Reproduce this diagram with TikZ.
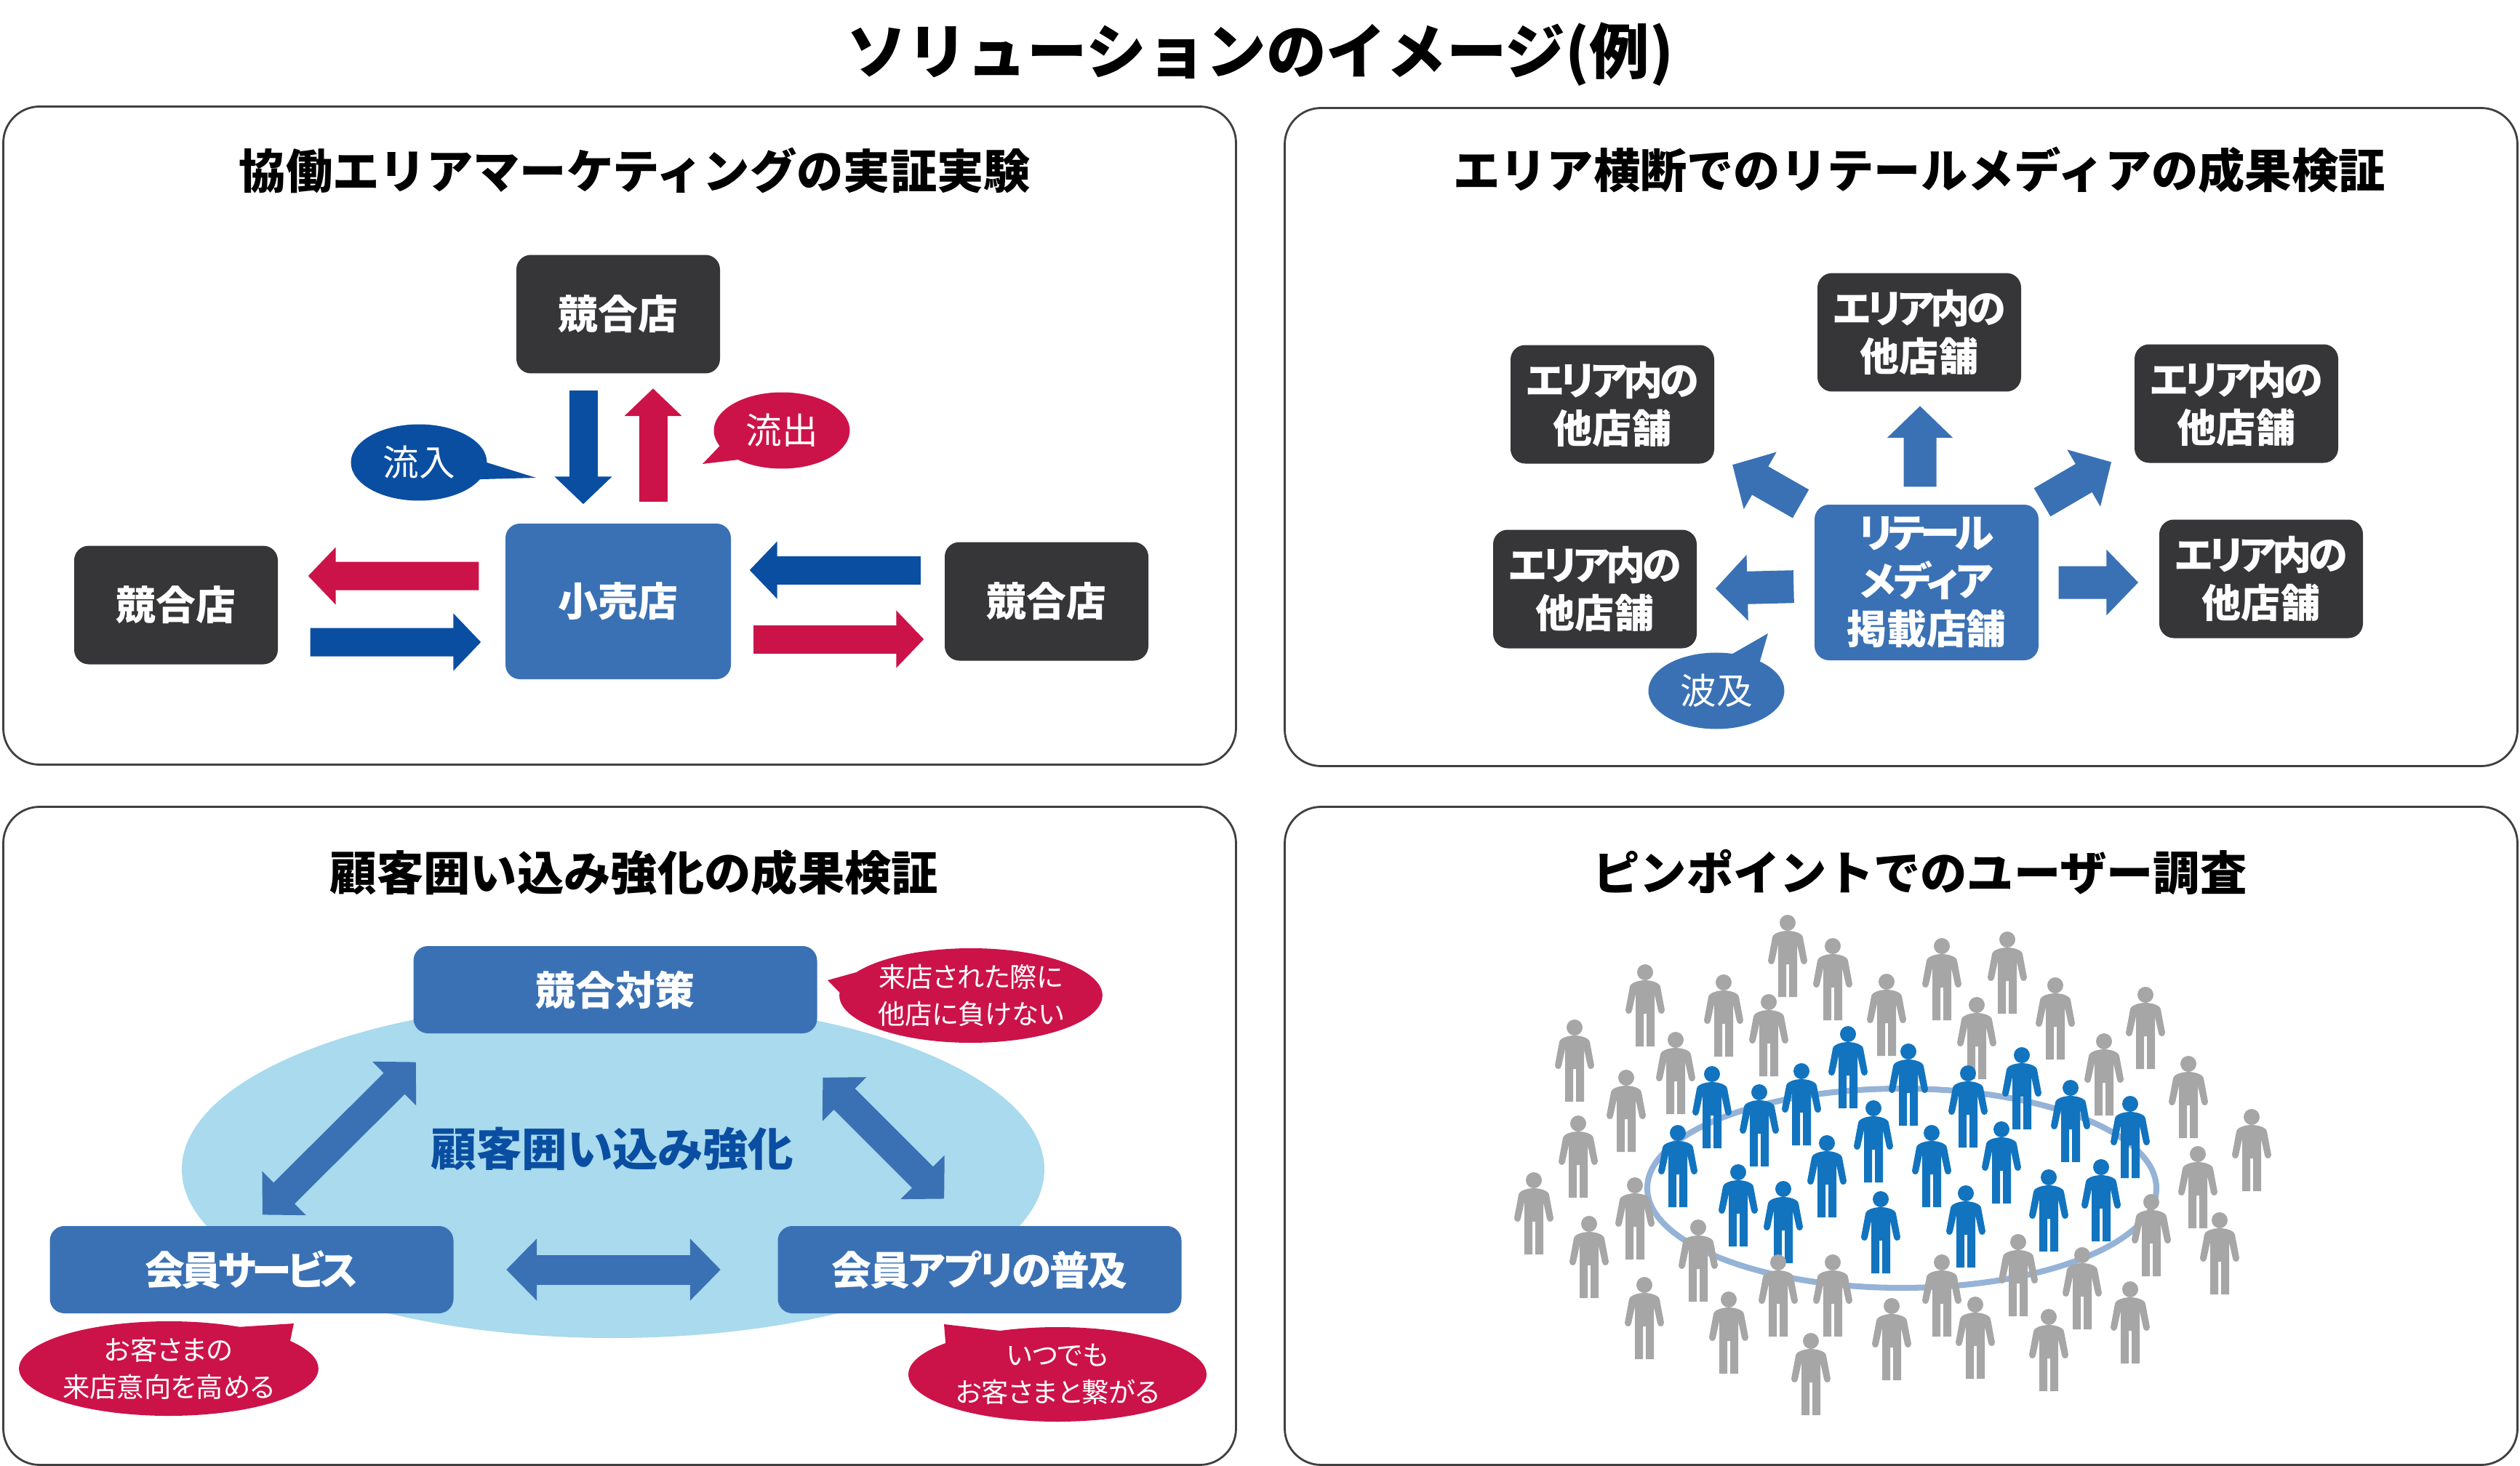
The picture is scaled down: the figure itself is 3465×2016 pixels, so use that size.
\documentclass[tikz,border=0pt]{standalone}
\usepackage{fontspec}
\setmainfont{Noto Sans CJK JP}[RawFeature=+palt]
\newfontfamily\plainjp{Noto Sans CJK JP}
\newcommand{\squeeze}[2]{{\addfontfeature{LetterSpace=#1}#2}}
\usepackage{xcolor}
\usetikzlibrary{arrows.meta,shapes.geometric,shapes.callouts}
\definecolor{inkdark}{HTML}{363638}
\definecolor{steel}{HTML}{3A71B4}
\definecolor{deepblue}{HTML}{0A4EA2}
\definecolor{crimson}{HTML}{CC1349}
\definecolor{paleblue}{HTML}{A9DAED}
\definecolor{crowdgray}{HTML}{A6A6A6}
\definecolor{crowdblue}{HTML}{1274BF}
\definecolor{ringblue}{HTML}{95B3D7}
\definecolor{panelline}{HTML}{404040}

\begin{document}
\begin{tikzpicture}[x=0.1mm,y=-0.1mm,
  panel/.style={draw=panelline,line width=0.8pt,rounded corners=5mm,minimum width=169.5mm,minimum height=90.5mm,inner sep=0pt},
  paneltitle/.style={font=\plainjp\fontsize{18.3}{22}\selectfont\bfseries,text=black,inner sep=0pt},
  darkbox/.style={fill=inkdark,text=white,rounded corners=2mm,minimum width=28mm,minimum height=16.3mm,inner sep=0pt,align=center,font=\fontsize{15.6}{18.4}\selectfont\bfseries},
  areabox/.style={darkbox,font=\fontsize{15.4}{18.6}\selectfont\bfseries},
  steelbox/.style={fill=steel,text=white,rounded corners=2mm,inner sep=0pt,align=center,font=\fontsize{15.6}{18.8}\selectfont\bfseries},
  wideblock/.style={steelbox,minimum width=55.5mm,minimum height=12mm},
  bubble/.style={ellipse callout,text=white,inner sep=0pt,align=center,callout pointer arc=26},
  talk/.style={bubble,font=\fontsize{14.1}{16}\selectfont,minimum width=18.7mm,minimum height=10.5mm},
  note/.style={bubble,fill=crimson,font=\fontsize{10.6}{14.4}\selectfont,minimum width=36mm,minimum height=13mm},
  flowarrow/.style={line width=3.9mm,-{Triangle[length=3.8mm,width=7.7mm]}},
  burstarrow/.style={draw=steel,line width=4.5mm,-{Triangle[length=4.4mm,width=8.8mm]}},
  linkarrow/.style={draw=steel,line width=4.1mm,{Triangle[length=4.2mm,width=8.3mm]}-{Triangle[length=4.2mm,width=8.3mm]}},
  person/.pic={
    \fill[pic actions] (0,-102) ellipse (11 and 11);
    \fill[pic actions] (-13,0) -- (-2,0) -- (-2,-45) -- (2,-45) -- (2,0) -- (13,0) -- (13,-72) -- (18,-49)
      .. controls (19,-43) and (27,-44) .. (27,-50) -- (21,-82)
      .. controls (20,-88) and (8,-91) .. (0,-91)
      .. controls (-8,-91) and (-20,-88) .. (-21,-82) -- (-27,-50)
      .. controls (-27,-44) and (-19,-43) .. (-18,-49) -- (-13,-72) -- cycle;
  }]
  \useasboundingbox (0,0) rectangle (3465,2016);

  \node[font=\plainjp\fontsize{23.5}{28}\selectfont\bfseries,inner sep=0pt] (headline) at (1733,75) {ソリューションのイメージ(例)};

  \node[panel] (panelA) at (852,599) {};
  \node[panel] (panelB) at (2614,601) {};
  \node[panel] (panelC) at (852,1562) {};
  \node[panel] (panelD) at (2614,1562) {};
  \node[paneltitle] (titleA) at (873,234) {協働エリアマーケティングの実証実験};
  \node[paneltitle] (titleB) at (2639,234) {エリア横断でのリテールメディアの成果検証};
  \node[paneltitle] (titleC) at (872,1200) {顧客囲い込み強化の成果検証};
  \node[paneltitle] (titleD) at (2640,1200) {ピンポイントでのユーザー調査};

  \node[darkbox] (rivalTop) at (850,432) {競合店};
  \node[darkbox] (rivalLeft) at (242,832) {競合店};
  \node[darkbox] (rivalRight) at (1439,827) {競合店};
  \node[steelbox,minimum width=31mm,minimum height=21.4mm] (shop) at (850,827) {小売店};
  \draw[flowarrow,deepblue,shorten <=2.3mm,shorten >=2.6mm] ([xshift=-4.8mm]rivalTop.south) -- ([xshift=-4.8mm]shop.north);
  \draw[flowarrow,crimson,shorten <=2.9mm,shorten >=2mm] ([xshift=4.8mm]shop.north) -- ([xshift=4.8mm]rivalTop.south);
  \draw[flowarrow,crimson,shorten <=3.6mm,shorten >=4.1mm] ([yshift=3.5mm]shop.west) -- ([yshift=4mm]rivalLeft.east);
  \draw[flowarrow,deepblue,shorten <=4.4mm,shorten >=3.3mm] ([yshift=-5.1mm]rivalLeft.east) -- ([yshift=-5.6mm]shop.west);
  \draw[flowarrow,deepblue,shorten <=3.2mm,shorten >=2.5mm] ([yshift=4.3mm]rivalRight.west) -- ([yshift=4.3mm]shop.east);
  \draw[flowarrow,crimson,shorten <=3mm,shorten >=2.8mm] ([yshift=-5.2mm]shop.east) -- ([yshift=-5.2mm]rivalRight.west);
  \node[talk,fill=deepblue,callout absolute pointer={(737,657)}] (inflow) at (576,636) {流入};
  \node[talk,fill=crimson,callout absolute pointer={(966,638)}] (outflow) at (1075,592) {流出};

  \node[steelbox,minimum width=30.8mm,minimum height=21.4mm] (media) at (2649,801) {\squeeze{-11}{リテール}\\\squeeze{-6}{メディア}\\掲載店舗};
  \node[areabox] (areaTop) at (2639,457) {\squeeze{-9}{エリア内の}\\他店舗};
  \node[areabox] (areaUL) at (2217,556) {\squeeze{-9}{エリア内の}\\他店舗};
  \node[areabox] (areaUR) at (3075,555) {\squeeze{-9}{エリア内の}\\他店舗};
  \node[areabox] (areaL) at (2193,810) {\squeeze{-9}{エリア内の}\\他店舗};
  \node[areabox] (areaR) at (3109,796) {\squeeze{-9}{エリア内の}\\他店舗};
  \draw[burstarrow,shorten <=2.4mm,shorten >=1.9mm] ([xshift=-0.9mm]media.north) -- ([xshift=0.1mm]areaTop.south);
  \draw[burstarrow,shorten <=2.1mm,shorten >=2.8mm] ([yshift=-1mm]media.north west) -- ([yshift=1.3mm]areaUL.south east);
  \draw[burstarrow,shorten <=0.5mm,shorten >=3.6mm] (media.north east) -- ([yshift=2mm]areaUR.south west);
  \draw[burstarrow,shorten <=2.8mm,shorten >=2.5mm] ([yshift=-0.5mm]media.west) -- (areaL.east);
  \draw[burstarrow,shorten <=2.7mm,shorten >=2.8mm] (media.east) -- ([yshift=-0.5mm]areaR.west);
  \node[talk,fill=steel,callout absolute pointer={(2431,871)}] (spread) at (2360,950) {波及};

  \node[ellipse,fill=paleblue,minimum width=118.6mm,minimum height=46.4mm,inner sep=0pt] (core) at (843,1608) {};
  \node[font=\fontsize{17.8}{22}\selectfont\bfseries,text=deepblue,inner sep=0pt] (coreLabel) at (842,1580) {顧客囲い込み強化};
  \node[wideblock] (rivalPlan) at (846,1361) {競合対策};
  \node[wideblock] (member) at (346,1746) {\squeeze{-9}{会員サービス}};
  \node[wideblock] (memberApp) at (1347,1746) {\squeeze{-4}{会員アプリの普及}};
  \draw[linkarrow,shorten <=5.5mm,shorten >=2.1mm] ([xshift=4.3mm]rivalPlan.south west) -- (member.north);
  \draw[linkarrow,shorten <=8.5mm,shorten >=5.2mm] ([xshift=-5.3mm]rivalPlan.south east) -- ([xshift=-1.2mm]memberApp.north);
  \draw[linkarrow,shorten <=7.2mm,shorten >=7.8mm] (member.east) -- (memberApp.west);
  \node[note,callout absolute pointer={(1138,1348)}] (noteA) at (1335,1369) {来店された際に\\他店に負けない};
  \node[note,minimum width=41mm,callout absolute pointer={(404,1820)}] (noteB) at (232,1882) {お客さまの\\来店意向を高める};
  \node[note,minimum width=41mm,callout absolute pointer={(1298,1821)}] (noteC) at (1454,1890) {いつでも\\お客さまと繋がる};

  \draw[ringblue,line width=2.3pt] (2615,1634) ellipse (350 and 137);
  \foreach \px/\py in {2458/1371,2520/1403,2670/1403,2760/1394,2594/1452,2262/1439,2370/1453,2432/1480,
    2826/1457,2950/1470,2718/1484,2165/1515,2304/1532,2236/1584,2893/1534,3009/1565}
    \pic[fill=crowdgray] at (\px,\py) {person};
  \foreach \px/\py in {2541/1524,2624/1548,2354/1579,2419/1604,2477/1575,2706/1578,2780/1553,2847/1598,2929/1620,2307/1660,
    2576/1626,2656/1660,2752/1655,2512/1674,2390/1714,2452/1737,2889/1707,2817/1721,2586/1751,2703/1743}
    \pic[fill=crowdblue] at (\px,\py) {person};
  \foreach \px/\py in {3096/1638,2170/1647,2109/1725,3022/1689,2958/1755,2248/1732,2185/1785,2335/1790,3052/1780,2775/1810,
    2863/1828,2445/1838,2520/1838,2670/1838,2261/1869,2377/1889,2601/1898,2716/1896,2929/1875,2817/1913,2490/1946}
    \pic[fill=crowdgray] at (\px,\py) {person};
\end{tikzpicture}
\end{document}
